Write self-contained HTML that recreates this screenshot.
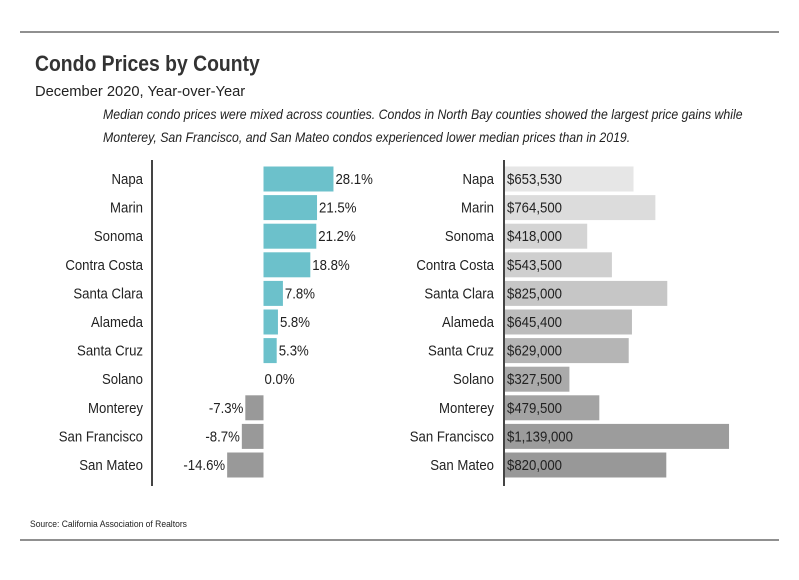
<!DOCTYPE html>
<html><head><meta charset="utf-8"><style>
body{margin:0;background:#fff;}
svg text{font-family:"Liberation Sans",sans-serif;fill:#222;}
</style></head><body>
<svg width="799" height="575" xmlns="http://www.w3.org/2000/svg">
<line x1="20" y1="32" x2="779" y2="32" stroke="#222" stroke-width="1"/>
<line x1="20" y1="540" x2="779" y2="540" stroke="#222" stroke-width="1"/>
<text transform="translate(35 71) scale(0.88 1)" style="font-weight:bold;font-size:22px;fill:#333">Condo Prices by County</text>
<text transform="translate(35 96) scale(0.98 1)" font-size="15">December 2020, Year-over-Year</text>
<text transform="translate(103 119) scale(0.88 1)" font-size="14" font-style="italic">Median condo prices were mixed across counties. Condos in North Bay counties showed the largest price gains while</text>
<text transform="translate(103 142) scale(0.88 1)" font-size="14" font-style="italic">Monterey, San Francisco, and San Mateo condos experienced lower median prices than in 2019.</text>
<line x1="152" y1="160" x2="152" y2="486" stroke="#444" stroke-width="2"/>
<line x1="504" y1="160" x2="504" y2="486" stroke="#444" stroke-width="2"/>
<text transform="translate(30 527) scale(0.9 1)" font-size="9.5">Source:  California Association of Realtors</text>
<g id="left"></g><g id="right"></g>
</svg>
<script>
const counties=["Napa","Marin","Sonoma","Contra Costa","Santa Clara","Alameda","Santa Cruz","Solano","Monterey","San Francisco","San Mateo"];
const changePct=[28.1,21.5,21.2,18.8,7.8,5.8,5.3,0.0,-7.3,-8.7,-14.6];
const medianPrice=[653530,764500,418000,543500,825000,645400,629000,327500,479500,1139000,820000];
const priceLabels=["$653,530","$764,500","$418,000","$543,500","$825,000","$645,400","$629,000","$327,500","$479,500","$1,139,000","$820,000"];
const NS="http://www.w3.org/2000/svg";
const SX=0.88;
const rowY=i=>179+i*28.6;
const xPct=v=>263.5+v*2.49;
const xPrice=v=>505+v*1.967e-4;
const grays=["#e6e6e6","#dcdcdc","#d4d4d4","#cfcfcf","#c6c6c6","#bcbcbc","#b5b5b5","#aaaaaa","#a3a3a3","#9c9c9c","#989898"];
function mk(t,a,p){const e=document.createElementNS(NS,t);for(const k in a)e.setAttribute(k,a[k]);p.appendChild(e);return e;}
function txt(x,y,s,anchor,p){return mk('text',{transform:`translate(${x} ${y}) scale(${SX} 1)`,'font-size':15,'text-anchor':anchor},p);}
const L=document.getElementById('left'),R=document.getElementById('right');
counties.forEach((c,i)=>{
 const y=rowY(i);
 let t=txt(143,y+5,15,'end',L);t.textContent=c;
 
 
 const v=changePct[i],x0=xPct(0),x1=xPct(v);
 if(v!==0){
  const r=mk('rect',{x:Math.min(x0,x1),y:y-12.5,width:Math.abs(x1-x0),height:25,fill:v>0?'#6cc1cb':'#999999'},L);
  
  
 }
 const lt=txt(v>=0?x1+(v>0?2:1):x1-2,y+5,15,v>=0?'start':'end',L);
 lt.textContent=v.toFixed(1)+'%';
 
 
 let t2=txt(494,y+5,15,'end',R);t2.textContent=c;
 
 
 const rb=mk('rect',{x:505,y:y-12.5,width:xPrice(medianPrice[i])-505,height:25,fill:grays[i]},R);
 
 
 const pt=txt(507,y+5,15,'start',R);pt.textContent=priceLabels[i];
 
 
});
</script>
</body></html>
